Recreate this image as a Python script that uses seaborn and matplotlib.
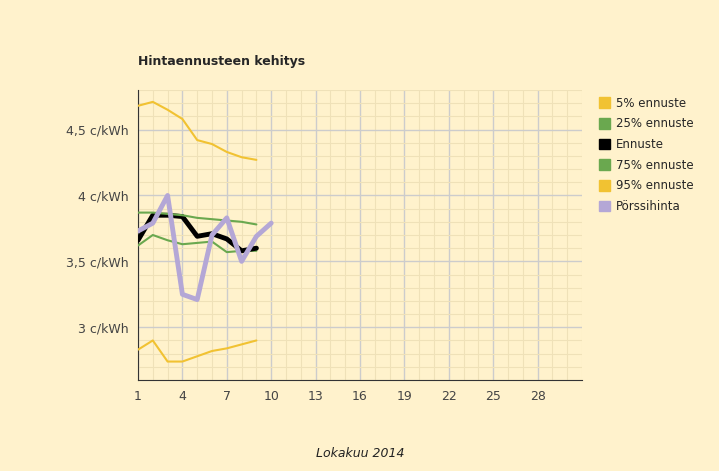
import matplotlib
matplotlib.use('Agg')
import matplotlib.pyplot as plt
import seaborn as sns
import pandas as pd
from matplotlib.ticker import MultipleLocator, FixedLocator
from matplotlib.patches import Patch

days9 = list(range(1, 10))
days10 = list(range(1, 11))
p5 = [2.83, 2.90, 2.74, 2.74, 2.78, 2.82, 2.84, 2.87, 2.90]
p25 = [3.62, 3.70, 3.66, 3.63, 3.64, 3.65, 3.57, 3.58, 3.58]
ennuste = [3.66, 3.85, 3.85, 3.84, 3.69, 3.71, 3.67, 3.58, 3.60]
p75 = [3.87, 3.87, 3.86, 3.85, 3.83, 3.82, 3.81, 3.80, 3.78]
p95 = [4.68, 4.71, 4.65, 4.58, 4.42, 4.39, 4.33, 4.29, 4.27]
porssi = [3.73, 3.79, 4.00, 3.25, 3.21, 3.70, 3.83, 3.50, 3.69, 3.79]

BG = '#fff2cc'
YEL = '#f1c232'
GRN = '#6aa84f'
PUR = '#b4a7d6'

sns.set_style('white')
plt.rcParams['font.family'] = ['DejaVu Sans']
fig = plt.figure(figsize=(7.19, 4.71), dpi=100, facecolor=BG)
ax = fig.add_axes([138/719, 1-380/471, 444/719, 290/471], facecolor=BG)

series = [('5% ennuste', days9, p5, YEL, 1.5),
          ('25% ennuste', days9, p25, GRN, 1.5),
          ('Ennuste', days9, ennuste, 'black', 3.5),
          ('75% ennuste', days9, p75, GRN, 1.5),
          ('95% ennuste', days9, p95, YEL, 1.5),
          ('Pörssihinta', days10, porssi, PUR, 3.5)]
for name, x, y, c, lw in series:
    df = pd.DataFrame({'day': x, 'v': y})
    sns.lineplot(data=df, x='day', y='v', ax=ax, color=c, lw=lw, zorder=3)

ax.set_xlim(1, 31)
ax.set_ylim(2.6, 4.8)
ax.xaxis.set_major_locator(FixedLocator(list(range(1, 29, 3))))
ax.xaxis.set_minor_locator(MultipleLocator(1))
ax.yaxis.set_major_locator(FixedLocator([3, 3.5, 4, 4.5]))
ax.yaxis.set_minor_locator(MultipleLocator(0.1))
ax.set_yticklabels(['3 c/kWh', '3,5 c/kWh', '4 c/kWh', '4,5 c/kWh'])
ax.grid(which='minor', color='#efe1b8', lw=0.8, zorder=0)
ax.grid(which='major', color='#cccccc', lw=1, zorder=1)
ax.tick_params(which='both', length=0, labelsize=9, colors='#444444', pad=7)
for s in ['top', 'right']:
    ax.spines[s].set_visible(False)
for s in ['left', 'bottom']:
    ax.spines[s].set_color('#333333')
ax.set_ylabel('')
ax.set_xlabel('Lokakuu 2014', fontstyle='italic', fontsize=9, labelpad=32, color='#222222')
fig.text(138/719, 1-62/471, 'Hintaennusteen kehitys', fontweight='bold', fontsize=9, va='center')

handles = [Patch(color=c, label=n) for n, _, _, c, _ in series]
fig.legend(handles=handles, loc='upper left', bbox_to_anchor=(588/719, 1-86/471),
           frameon=False, fontsize=8.5, handlelength=1, handleheight=1,
           handletextpad=0.5, labelspacing=0.65)
fig.savefig('out.png', dpi=100, facecolor=BG)
